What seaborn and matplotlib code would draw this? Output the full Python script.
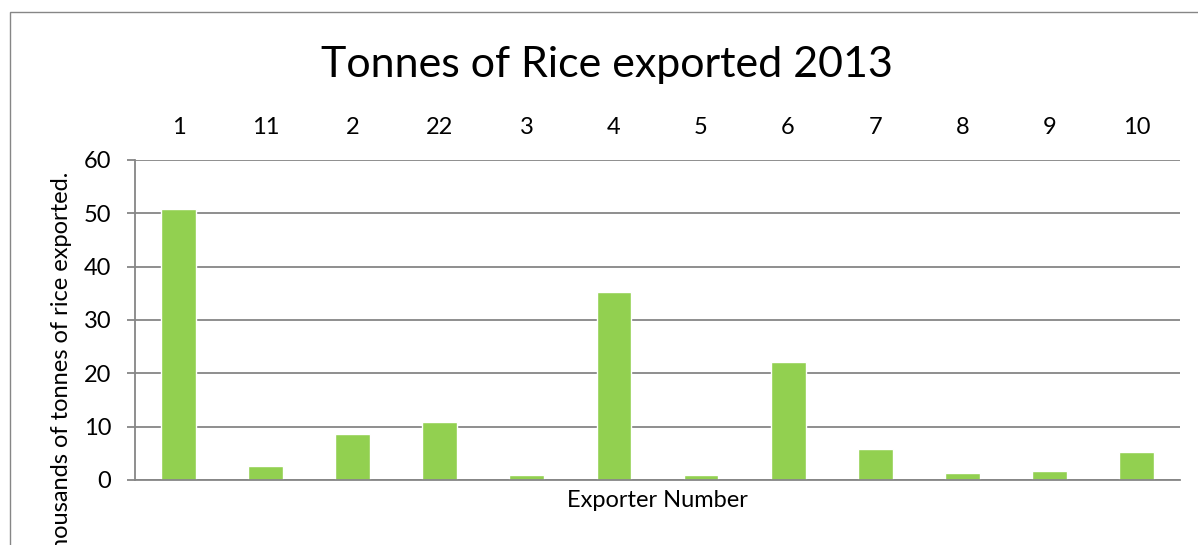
import matplotlib
matplotlib.use('Agg')
import matplotlib.pyplot as plt
import matplotlib.patches as patches
import seaborn as sns

exporters = ['1', '11', '2', '22', '3', '4', '5', '6', '7', '8', '9', '10']
tonnes = [50.9, 2.7, 8.6, 10.9, 0.9, 35.3, 0.9, 22.1, 5.8, 1.3, 1.7, 5.3]

sns.set_style('white')
plt.rcParams['font.family'] = ['Lato', 'DejaVu Sans']
plt.rcParams['text.color'] = 'black'
plt.rcParams['axes.labelcolor'] = 'black'

grey = '#868686'
fig = plt.figure(figsize=(11.98, 5.45), dpi=100)
ax = fig.add_axes([135 / 1198, 65 / 545, 1045 / 1198, 320 / 545])

sns.barplot(x=exporters, y=tonnes, order=exporters, color='#92D050',
            saturation=1, width=0.4, ax=ax, zorder=3)

ax.set_ylim(0, 60)
ax.set_xlim(-0.5, 11.5)
ax.set_yticks(range(0, 61, 10))
ax.yaxis.grid(True, color=grey, lw=1.3)
ax.set_axisbelow(True)

for s in ['top', 'right']:
    ax.spines[s].set_visible(False)
for s in ['left', 'bottom']:
    ax.spines[s].set_color(grey)
    ax.spines[s].set_linewidth(1.3)
    ax.spines[s].set_zorder(4)

# category labels sit above the plot, like the original
ax.xaxis.tick_top()
ax.tick_params(axis='x', length=0, pad=16, labelsize=17, labelcolor='black')
ax.tick_params(axis='y', left=True, length=6, width=1.3, color=grey,
               pad=11, labelsize=17, labelcolor='black')

ax.set_xlabel('Exporter Number', fontsize=17, labelpad=7)
ax.xaxis.set_label_position('bottom')
ax.set_ylabel('Thousands of tonnes of rice exported.', fontsize=17,
              ha='right')
ax.yaxis.set_label_coords(-0.06, (480 - 172) / 320)

fig.suptitle('Tonnes of Rice exported 2013', fontsize=31, y=1 - 65 / 545,
             va='center', x=607 / 1198)

fig.add_artist(patches.Rectangle((9.5 / 1198, -0.2), 1.2, 1.2 - 12 / 545,
                                 fill=False, edgecolor=grey, lw=1,
                                 transform=fig.transFigure, clip_on=False))

fig.savefig('out.png', dpi=100)
